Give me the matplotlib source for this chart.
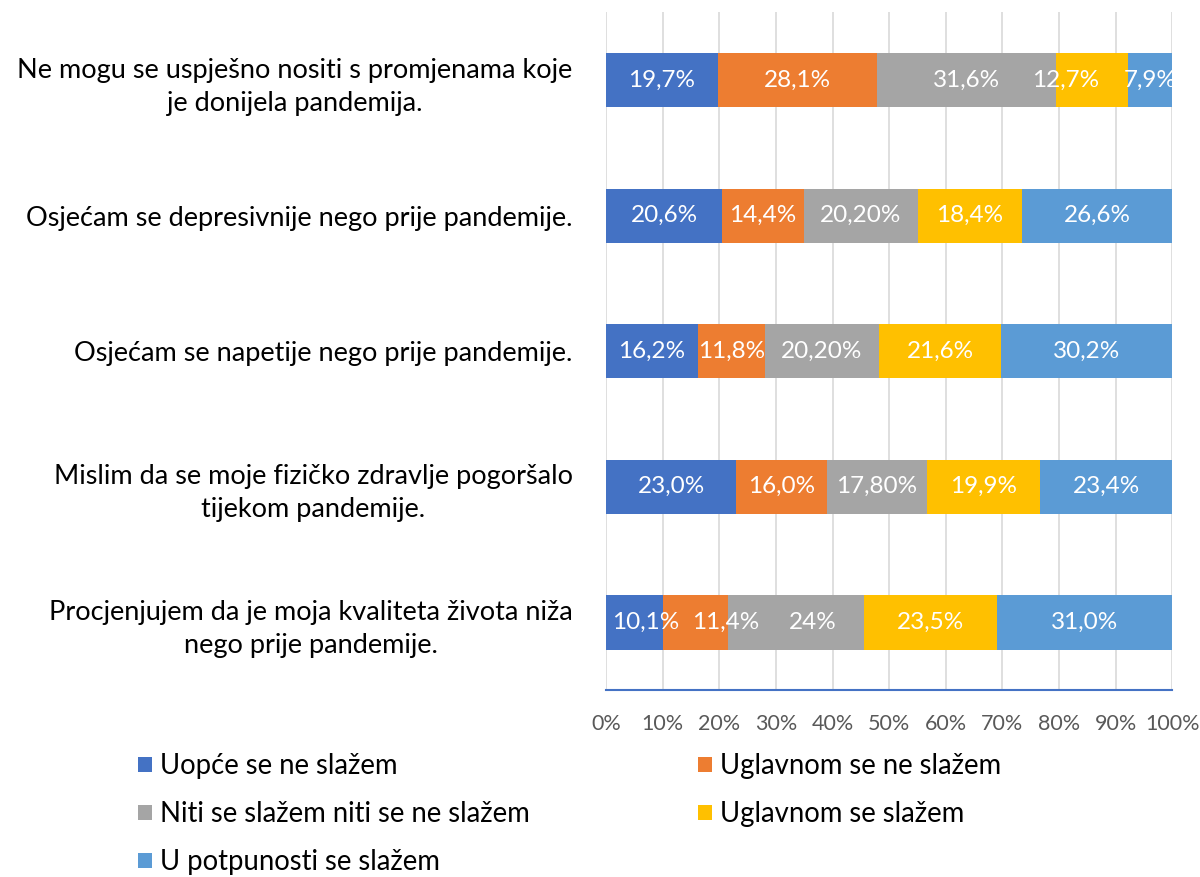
import matplotlib.pyplot as plt
import numpy as np

plt.rcParams['font.family'] = ['Lato', 'DejaVu Sans']

# Statements (top to bottom)
statements = [
    'Ne mogu se uspješno nositi s promjenama koje\nje donijela pandemija.',
    'Osjećam se depresivnije nego prije pandemije.',
    'Osjećam se napetije nego prije pandemije.',
    'Mislim da se moje fizičko zdravlje pogoršalo\ntijekom pandemije.',
    'Procjenjujem da je moja kvaliteta života niža\nnego prije pandemije.',
]

series_names = ['Uopće se ne slažem', 'Uglavnom se ne slažem',
                'Niti se slažem niti se ne slažem', 'Uglavnom se slažem',
                'U potpunosti se slažem']

# Shares (%) per answer, one list per series, rows follow `statements`
uopce = [19.7, 20.6, 16.2, 23.0, 10.1]
uglavnom_ne = [28.1, 14.4, 11.8, 16.0, 11.4]
niti = [31.6, 20.2, 20.2, 17.8, 24.0]
uglavnom_da = [12.7, 18.4, 21.6, 19.9, 23.5]
potpuno = [7.9, 26.6, 30.2, 23.4, 31.0]

# Labels as printed in the chart
label_texts = [
    ['19,7%', '20,6%', '16,2%', '23,0%', '10,1%'],
    ['28,1%', '14,4%', '11,8%', '16,0%', '11,4%'],
    ['31,6%', '20,20%', '20,20%', '17,80%', '24%'],
    ['12,7%', '18,4%', '21,6%', '19,9%', '23,5%'],
    ['7,9%', '26,6%', '30,2%', '23,4%', '31,0%'],
]
# a few labels were nudged by hand in the original (in % units)
label_shift = {(3, 0): -4.6, (0, 4): 2.0, (1, 4): 5.3, (2, 4): 3.0}

colors = ['#4472C4', '#ED7D31', '#A5A5A5', '#FFC000', '#5B9BD5']

data = np.array([uopce, uglavnom_ne, niti, uglavnom_da, potpuno])
totals = data.sum(axis=0)
shares = data / totals * 100

fig = plt.figure(figsize=(12, 8.77), dpi=100)
ax = fig.add_axes([0.505, 0.213, 0.472, 0.773])

y = np.arange(len(statements))
left = np.zeros(len(statements))
handles = []
for k in range(len(series_names)):
    b = ax.barh(y, shares[k], left=left, height=0.4, color=colors[k],
                label=series_names[k], zorder=2)
    handles.append(b)
    for i in range(len(statements)):
        xc = left[i] + shares[k][i] / 2 + label_shift.get((k, i), 0)
        ax.text(xc, y[i], label_texts[k][i], ha='center', va='center',
                color='white', fontsize=17.5, zorder=3)
    left += shares[k]

ax.set_xlim(0, 100)
ax.set_ylim(4.5, -0.5)
ax.set_xticks(np.arange(0, 101, 10))
ax.set_xticklabels([f'{v}%' for v in range(0, 101, 10)], color='#595959', fontsize=15.5)
ax.set_yticks(y)
ax.set_yticklabels(statements, fontsize=19.5, multialignment='center',
                   linespacing=1.4, color='black')
ax.tick_params(axis='y', length=0, pad=24)
ax.tick_params(axis='x', length=0, pad=17)
ax.grid(True, axis='x', color='#D9D9D9', linewidth=1.2, zorder=0)
for s in ['top', 'right', 'left']:
    ax.spines[s].set_visible(False)
ax.spines['bottom'].set_color('#4472C4')
ax.spines['bottom'].set_linewidth(1.5)

# legend in two columns, row-major order
leg_kw = dict(frameon=False, fontsize=19.8, handlelength=0.5, handleheight=0.5,
              handletextpad=0.3, labelspacing=0.8, borderaxespad=0, borderpad=0)
leg1 = fig.legend([handles[0], handles[2], handles[4]],
                  [series_names[0], series_names[2], series_names[4]],
                  loc='upper left', bbox_to_anchor=(0.115, 0.141), **leg_kw)
leg2 = fig.legend([handles[1], handles[3]],
                  [series_names[1], series_names[3]],
                  loc='upper left', bbox_to_anchor=(0.5817, 0.141), **leg_kw)

fig.savefig('out.png', dpi=100)
